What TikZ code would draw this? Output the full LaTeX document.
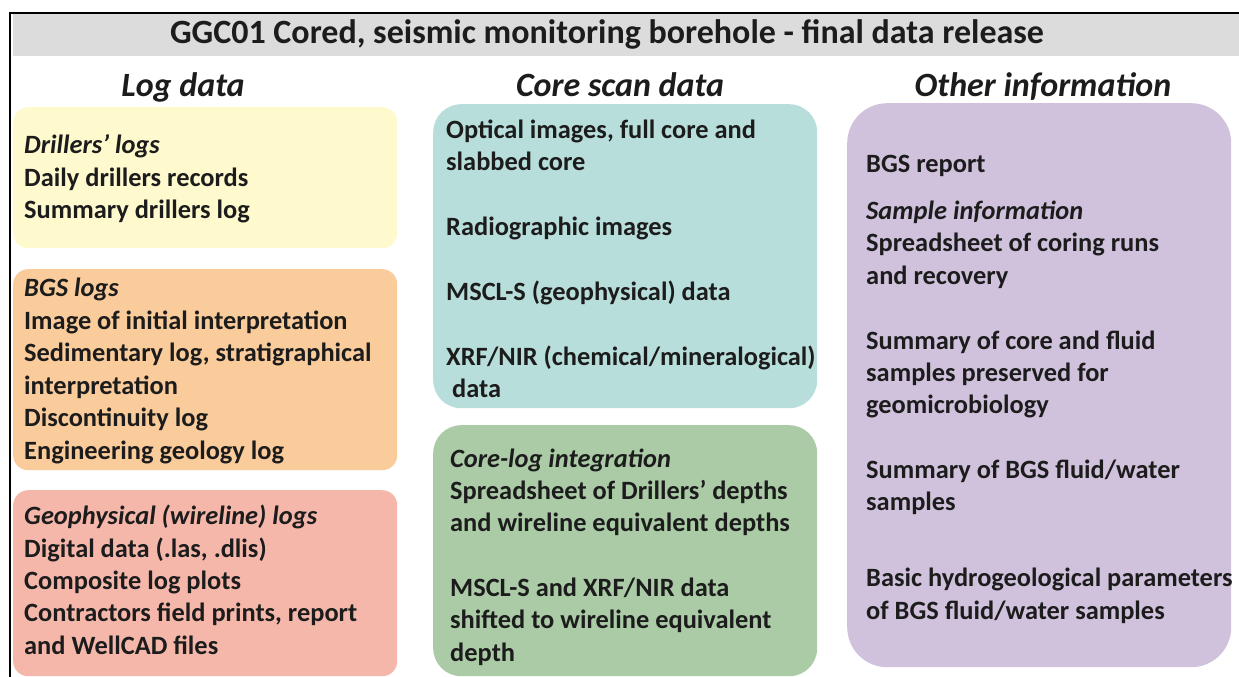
\documentclass[tikz,border=0pt]{standalone}
\usepackage{fontspec}
\setmainfont{Carlito}
\definecolor{hdrgray}{RGB}{220,220,220}
\definecolor{ylw}{RGB}{255,249,206}
\definecolor{org}{RGB}{250,203,155}
\definecolor{pnk}{RGB}{246,183,171}
\definecolor{tel}{RGB}{184,222,219}
\definecolor{grn}{RGB}{170,203,166}
\definecolor{prp}{RGB}{208,193,220}
\definecolor{ink}{RGB}{28,28,28}
\tikzset{
  panel/.style={anchor=north west, inner sep=0pt, draw=none},
  txt/.style={anchor=base west, inner sep=0pt, text=ink, font=\fontsize{26.4}{31}\selectfont\bfseries},
  ittxt/.style={anchor=base west, inner sep=0pt, text=ink, font=\fontsize{26.4}{31}\selectfont\bfseries\itshape},
  colhead/.style={anchor=base, inner sep=0pt, text=ink, font=\fontsize{34}{40}\selectfont\bfseries\itshape},
}
\begin{document}
\begin{tikzpicture}[x=1pt,y=-1pt]
\useasboundingbox (0,0) rectangle (1239,677);
\fill[white] (0,0) rectangle (1239,677);
% header band and frame
\node[panel, fill=hdrgray, minimum width=1226pt, minimum height=42pt] (band) at (13,14) {};
\draw[line width=1.6pt, black] (10,13) -- (1239,13);
\draw[line width=2pt, black] (10,12.2) -- (10,677);
\node[anchor=base, inner sep=0pt, text=ink, font=\fontsize{34}{40}\selectfont\bfseries] (title) at (607,44) {GGC01 Cored, seismic monitoring borehole - final data release};
% column headings
\node[colhead] (h1) at (183,96) {Log data};
\node[colhead] (h2) at (620,96) {Core scan data};
\node[colhead] (h3) at (1043,96) {Other information};
% panels
\node[panel, fill=ylw, rounded corners=15pt, minimum width=384pt, minimum height=141pt] (p1) at (13,107) {};
\node[panel, fill=org, rounded corners=15pt, minimum width=384pt, minimum height=201pt] (p2) at (13,269) {};
\node[panel, fill=pnk, rounded corners=15pt, minimum width=384pt, minimum height=186pt] (p3) at (13,490) {};
\node[panel, fill=tel, rounded corners=28pt, minimum width=384pt, minimum height=304pt] (p4) at (433,104) {};
\node[panel, fill=grn, rounded corners=28pt, minimum width=384pt, minimum height=251pt] (p5) at (433,425) {};
\node[panel, fill=prp, rounded corners=40pt, minimum width=384pt, minimum height=564pt] (p6) at (847,103) {};
% log data texts
\node[ittxt] (a1) at (24,153) {Drillers’ logs};
\node[txt] (a2) at (24,186) {Daily drillers records};
\node[txt] (a3) at (24,218) {Summary drillers log};
\node[ittxt] (b1) at (24,296) {BGS logs};
\node[txt] (b2) at (24,329) {Image of initial interpretation};
\node[txt] (b3) at (24,361) {Sedimentary log, stratigraphical};
\node[txt] (b4) at (24,394) {interpretation};
\node[txt] (b5) at (24,426) {Discontinuity log};
\node[txt] (b6) at (24,459) {Engineering geology log};
\node[ittxt] (c1) at (24,524) {Geophysical (wireline) logs};
\node[txt] (c2) at (24,557) {Digital data (.las, .dlis)};
\node[txt] (c3) at (24,589) {Composite log plots};
\node[txt] (c4) at (24,621) {Contractors field prints, report};
\node[txt] (c5) at (24,654) {and WellCAD files};
% core scan texts
\node[txt] (d1) at (446,138) {Optical images, full core and};
\node[txt] (d2) at (446,170) {slabbed core};
\node[txt] (d3) at (446,235) {Radiographic images};
\node[txt] (d4) at (446,300) {MSCL-S (geophysical) data};
\node[txt] (d5) at (446,365) {XRF/NIR (chemical/mineralogical)};
\node[txt] (d6) at (452,397) {data};
\node[ittxt] (e1) at (450,467) {Core-log integration};
\node[txt] (e2) at (450,499) {Spreadsheet of Drillers’ depths};
\node[txt] (e3) at (450,531) {and wireline equivalent depths};
\node[txt] (e4) at (450,596) {MSCL-S and XRF/NIR data};
\node[txt] (e5) at (450,628) {shifted to wireline equivalent};
\node[txt] (e6) at (450,661) {depth};
% other info texts
\node[txt] (f1) at (866,172) {BGS report};
\node[ittxt] (f2) at (866,219) {Sample information};
\node[txt] (f3) at (866,251) {Spreadsheet of coring runs};
\node[txt] (f4) at (866,284) {and recovery};
\node[txt] (f5) at (866,349) {Summary of core and fluid};
\node[txt] (f6) at (866,381) {samples preserved for};
\node[txt] (f7) at (866,413) {geomicrobiology};
\node[txt] (f8) at (866,478) {Summary of BGS fluid/water};
\node[txt] (f9) at (866,510) {samples};
\node[txt] (f10) at (866,586) {Basic hydrogeological parameters};
\node[txt] (f11) at (866,619) {of BGS fluid/water samples};
\end{tikzpicture}
\end{document}
